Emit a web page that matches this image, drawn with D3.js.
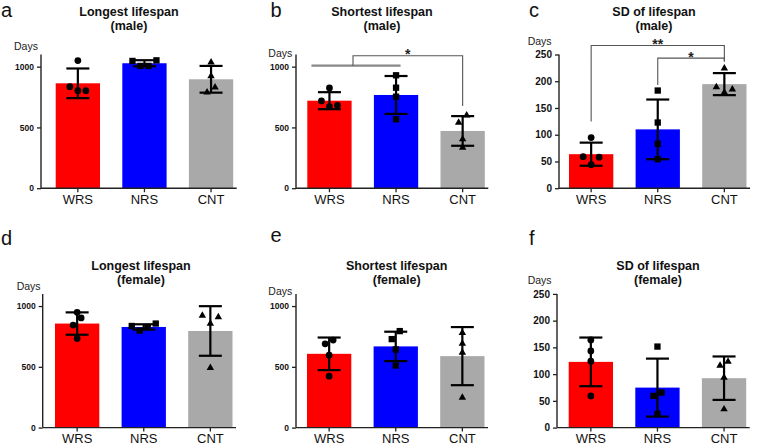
<!DOCTYPE html>
<html><head><meta charset="utf-8">
<script src="https://cdn.jsdelivr.net/npm/d3@7"></script>
<style>
body{margin:0;background:#fff}
svg{display:block;font-family:"Liberation Sans",Arial,Helvetica,sans-serif}
</style>
</head><body>
<svg id="chart" width="760" height="446"></svg>
<script>
// ---------- DATA ----------
const groups = ["WRS", "NRS", "CNT"];
const yTicksDays = [0, 500, 1000];
const yTicksSD = [0, 50, 100, 150, 200, 250];

// a: Longest lifespan (male)
const longestMaleMean = [863, 1028, 896];
const longestMaleSD = [122, 25, 110];
const longestMalePts = [[1050, 835, 802, 802], [1052, 1047, 1006, 1006], [1036, 923, 830, 788]];

// b: Shortest lifespan (male)
const shortestMaleMean = [720, 767, 471];
const shortestMaleSD = [70, 156, 122];
const shortestMalePts = [[825, 718, 671, 682], [929, 827, 753, 567], [600, 540, 403, 334]];

// c: SD of lifespan (male)
const sdMaleMean = [63.6, 110, 194.6];
const sdMaleSD = [21.6, 55.8, 20.6];
const sdMalePts = [[94.7, 59, 58, 44], [182.6, 122.8, 83, 54.2], [224, 189, 185, 179]];

// d: Longest lifespan (female)
const longestFemaleMean = [856, 828, 795];
const longestFemaleSD = [92, 22, 204];
const longestFemalePts = [[948, 902, 844, 733], [836, 798, 828, 856], [910, 921, 856, 492]];

// e: Shortest lifespan (female)
const shortestFemaleMean = [607, 668, 588];
const shortestFemaleSD = [134, 121, 239];
const shortestFemalePts = [[689, 720, 596, 423], [794, 728, 643, 511], [780, 692, 618, 247]];

// f: SD of lifespan (female)
const sdFemaleMean = [122.9, 74.8, 92.4];
const sdFemaleSD = [45.5, 54.2, 40.6];
const sdFemalePts = [[164, 143.4, 124.2, 59.3], [151.5, 65.5, 59.3, 25.6], [123.4, 116, 93.5, 34.4]];

// significance annotations (values in data units)
const brackets = [
  {panel: "b", from: [0, 1], to: 2, top: 1090, fromBottom: 1008, toBottom: 677, label: "*"},
  {panel: "c", from: [0], to: 2, top: 266.8, fromBottom: 124.6, toBottom: 237, label: "**"},
  {panel: "c", from: [1], to: 2, top: 243.3, fromBottom: 193, toBottom: 237, label: "*"}
];

// ---------- LAYOUT ----------
const colors = ["#ff0000", "#0000ff", "#a9a9a9"];
const STEP = 66.6, BARW = 44.3, PH = 133.7;
const panels = [
  {id: "a", title: ["Longest lifespan", "(male)"], mean: longestMaleMean, sd: longestMaleSD, pts: longestMalePts,
   max: 1100, ticks: yTicksDays, axisX: 41, bar0: 55.7, y0: 188.2, titleX: 129, titleY: 15.5,
   daysX: 14, daysY: 50, letterX: 1, letterY: 16.5, tickFont: 8.5},
  {id: "b", title: ["Shortest lifespan", "(male)"], mean: shortestMaleMean, sd: shortestMaleSD, pts: shortestMalePts,
   max: 1100, ticks: yTicksDays, axisX: 296, bar0: 307.3, y0: 188.2, titleX: 382, titleY: 15.5,
   daysX: 268.3, daysY: 56.5, letterX: 270.5, letterY: 16.5, tickFont: 8.5},
  {id: "c", title: ["SD of lifespan", "(male)"], mean: sdMaleMean, sd: sdMaleSD, pts: sdMalePts,
   max: 250, ticks: yTicksSD, axisX: 559, bar0: 569, y0: 188.2, titleX: 654, titleY: 15.5,
   daysX: 527.7, daysY: 45, letterX: 529, letterY: 16.5, tickFont: 10},
  {id: "d", title: ["Longest lifespan", "(female)"], mean: longestFemaleMean, sd: longestFemaleSD, pts: longestFemalePts,
   max: 1100, ticks: yTicksDays, axisX: 42.7, bar0: 55, y0: 427.6, titleX: 141, titleY: 269.5,
   daysX: 16.7, daysY: 289.5, letterX: 1, letterY: 245, tickFont: 8.5},
  {id: "e", title: ["Shortest lifespan", "(female)"], mean: shortestFemaleMean, sd: shortestFemaleSD, pts: shortestFemalePts,
   max: 1100, ticks: yTicksDays, axisX: 296, bar0: 307, y0: 427.6, titleX: 396.7, titleY: 269.5,
   daysX: 268.3, daysY: 295, letterX: 270.5, letterY: 242, tickFont: 8.5},
  {id: "f", title: ["SD of lifespan", "(female)"], mean: sdFemaleMean, sd: sdFemaleSD, pts: sdFemalePts,
   max: 250, ticks: yTicksSD, axisX: 557, bar0: 568.7, y0: 427.6, titleX: 658, titleY: 269.5,
   daysX: 527.7, daysY: 284, letterX: 529, letterY: 245, tickFont: 10}
];

const svg = d3.select("#chart");
const P = 1 - BARW / STEP;

// simple GraphPad-like scatter spreading
function swarm(values, y) {
  const items = values.map(v => ({v, py: y(v), dx: 0}));
  const asc = items.slice().sort((a, b) => a.v - b.v);
  const clusters = [];
  let cur = null;
  asc.forEach(it => {
    if (cur && Math.abs(cur[0].py - it.py) <= 8.2) cur.push(it);
    else { cur = [it]; clusters.push(cur); }
  });
  const patterns = {1: [0], 2: [4, -4], 3: [-8, 8, 0], 4: [12, -12, 4, -4]};
  clusters.forEach(c => {
    const desc = c.slice().sort((a, b) => b.v - a.v);
    const pat = patterns[desc.length] || desc.map((d, i) => (i - (desc.length - 1) / 2) * 8);
    desc.forEach((it, i) => it.dx = pat[i]);
  });
  return items;
}

const symbols = [d3.symbolCircle, d3.symbolSquare, d3.symbolTriangle];
const symSizes = [36, 40, 24];
const scales = {};

panels.forEach(p => {
  const g = svg.append("g");
  const r0 = p.bar0 - STEP * P / 2;
  const x = d3.scaleBand().domain(groups).range([r0, r0 + 3 * STEP]).paddingInner(P).paddingOuter(P / 2);
  const y = d3.scaleLinear().domain([0, p.max]).range([p.y0, p.y0 - PH]);
  scales[p.id] = {x, y};

  // bars
  g.selectAll("rect.bar").data(p.mean).join("rect")
    .attr("x", (d, i) => x(groups[i])).attr("width", x.bandwidth())
    .attr("y", d => y(d)).attr("height", d => y(0) - y(d))
    .attr("fill", (d, i) => colors[i]);

  // error bars
  p.mean.forEach((m, i) => {
    const cx = x(groups[i]) + x.bandwidth() / 2;
    const lo = m - p.sd[i], hi = m + p.sd[i];
    const eb = g.append("g").attr("stroke", "#000").attr("stroke-width", 2.2).attr("fill", "none");
    eb.append("line").attr("x1", cx).attr("x2", cx).attr("y1", y(lo)).attr("y2", y(hi));
    eb.append("line").attr("x1", cx - 11.5).attr("x2", cx + 11.5).attr("y1", y(hi)).attr("y2", y(hi));
    eb.append("line").attr("x1", cx - 11.5).attr("x2", cx + 11.5).attr("y1", y(lo)).attr("y2", y(lo));
  });

  // points
  p.pts.forEach((vals, i) => {
    const cx = x(groups[i]) + x.bandwidth() / 2;
    const items = swarm(vals, y);
    g.selectAll(null).data(items).join("path")
      .attr("d", d3.symbol().type(symbols[i]).size(symSizes[i]))
      .attr("transform", d => `translate(${cx + d.dx},${d.py})`)
      .attr("fill", "#000");
  });

  // y axis
  const ya = g.append("g").attr("transform", `translate(${p.axisX},0)`)
    .call(d3.axisLeft(y).tickValues(p.ticks).tickSize(4).tickSizeOuter(0).tickPadding(3).tickFormat(d3.format("d")));
  ya.select(".domain").attr("stroke", "#222").attr("stroke-width", 1.4)
    .attr("d", `M0,${y(0)}V${y(p.max)}`);
  ya.selectAll(".tick line").attr("stroke", "#222").attr("stroke-width", 1.3);
  ya.selectAll(".tick text").attr("font-size", p.tickFont).attr("font-weight", "bold")
    .attr("fill", "#111").attr("font-family", null);

  // x axis
  const xEnd = p.bar0 + 2 * STEP + BARW + 3.5;
  const xa = g.append("g").attr("transform", `translate(0,${y(0)})`)
    .call(d3.axisBottom(x).tickSize(4).tickSizeOuter(0).tickPadding(4));
  xa.select(".domain").attr("stroke", "#222").attr("stroke-width", 1.4)
    .attr("d", `M${p.axisX},0H${xEnd}`);
  xa.selectAll(".tick line").attr("stroke", "#222").attr("stroke-width", 1.3);
  xa.selectAll(".tick text").attr("font-size", 13).attr("fill", "#111").attr("font-family", null)
    .attr("dy", null).attr("y", 15.8);

  // title
  const t = g.append("text").attr("text-anchor", "middle").attr("font-weight", "bold")
    .attr("font-size", 12.5).attr("fill", "#111");
  t.append("tspan").attr("x", p.titleX).attr("y", p.titleY).text(p.title[0]);
  t.append("tspan").attr("x", p.titleX).attr("y", p.titleY + 14).text(p.title[1]);

  // Days label
  g.append("text").attr("x", p.daysX).attr("y", p.daysY).attr("font-size", 10.5)
    .attr("fill", "#222").text("Days");

  // panel letter
  g.append("text").attr("x", p.letterX).attr("y", p.letterY).attr("font-size", 20)
    .attr("fill", "#111").text(p.id);
});

// significance brackets
brackets.forEach(b => {
  const {x, y} = scales[b.panel];
  const c = i => x(groups[i]) + x.bandwidth() / 2;
  let xl;
  if (b.from.length > 1) {
    const gx1 = c(b.from[0]) - 18, gx2 = c(b.from[b.from.length - 1]) + 4.5;
    svg.append("line").attr("x1", gx1).attr("x2", gx2)
      .attr("y1", y(b.fromBottom)).attr("y2", y(b.fromBottom))
      .attr("stroke", "#888").attr("stroke-width", 2.2);
    xl = (gx1 + gx2) / 2 - 3;
  } else {
    xl = c(b.from[0]);
  }
  const xr = c(b.to);
  svg.append("path")
    .attr("d", `M${xl},${y(b.fromBottom)}V${y(b.top)}H${xr}V${y(b.toBottom)}`)
    .attr("fill", "none").attr("stroke", "#555").attr("stroke-width", 1.1);
  svg.append("text").attr("x", (xl + xr) / 2).attr("y", y(b.top) + 3.5)
    .attr("text-anchor", "middle").attr("font-size", 14).attr("font-weight", "bold")
    .attr("fill", "#222").text(b.label);
});
</script>
</body></html>
